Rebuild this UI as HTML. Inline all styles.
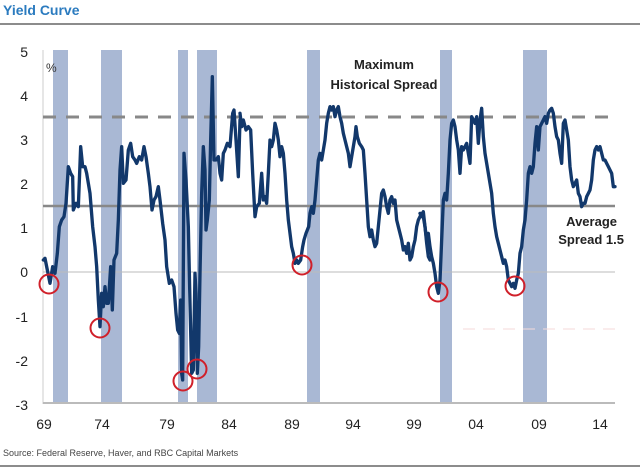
<!DOCTYPE html>
<html><head><meta charset="utf-8"><style>
html,body{margin:0;padding:0;background:#fff;}
svg{display:block;font-family:"Liberation Sans",sans-serif;}
</style></head><body>
<svg width="640" height="471" viewBox="0 0 640 471" xmlns="http://www.w3.org/2000/svg">
<text x="3" y="15" font-size="14" font-weight="bold" fill="#2b7bbf">Yield Curve</text>
<line x1="0" y1="24" x2="640" y2="24" stroke="#666" stroke-width="1.5"/>
<g fill="#a9b8d4">
<rect x="53" y="50" width="15" height="353"/>
<rect x="101" y="50" width="21" height="353"/>
<rect x="178" y="50" width="10" height="353"/>
<rect x="197" y="50" width="20" height="353"/>
<rect x="307" y="50" width="13" height="353"/>
<rect x="440" y="50" width="12" height="353"/>
<rect x="523" y="50" width="24" height="353"/>
</g>
<line x1="43" y1="50" x2="43" y2="404" stroke="#ccc" stroke-width="1"/>
<line x1="43" y1="403" x2="615" y2="403" stroke="#bbb" stroke-width="2"/>
<line x1="43" y1="272" x2="615" y2="272" stroke="#bbb" stroke-width="1"/>
<line x1="43" y1="206" x2="615" y2="206" stroke="#888" stroke-width="2.5"/>
<line x1="43" y1="117" x2="615" y2="117" stroke="#888" stroke-width="3" stroke-dasharray="13,10"/>
<line x1="463" y1="329" x2="615" y2="329" stroke="#f4dada" stroke-width="1" stroke-dasharray="12,8"/>
<g font-size="14" fill="#222" text-anchor="end">
<text x="28" y="57">5</text><text x="28" y="101">4</text><text x="28" y="145">3</text>
<text x="28" y="189">2</text><text x="28" y="233">1</text><text x="28" y="277">0</text>
<text x="28" y="322">-1</text><text x="28" y="366">-2</text><text x="28" y="410">-3</text>
</g>
<text x="46" y="72" font-size="12" fill="#333">%</text>
<g font-size="14" fill="#222" text-anchor="middle">
<text x="44" y="429">69</text><text x="102" y="429">74</text><text x="167" y="429">79</text>
<text x="229" y="429">84</text><text x="292" y="429">89</text><text x="353" y="429">94</text>
<text x="414" y="429">99</text><text x="476" y="429">04</text><text x="539" y="429">09</text>
<text x="600" y="429">14</text>
</g>
<g font-size="13" font-weight="bold" fill="#222" text-anchor="middle">
<text x="384" y="69">Maximum</text><text x="384" y="89">Historical Spread</text>
</g>
<g font-size="13" font-weight="bold" fill="#222" text-anchor="end">
<text x="617" y="226">Average</text><text x="624" y="244">Spread 1.5</text>
</g>
<g fill="none" stroke="#12386b" stroke-width="10" stroke-linejoin="round" stroke-linecap="round">
<polyline transform="translate(40,40) scale(0.33333)" points="10,660 15,655 22,690 30,730 38,680 45,700 52,640 58,560 65,540 72,530 78,490 85,380 92,400 98,410 100,510 108,490 115,500 122,320 128,380 135,380 140,400 150,460 158,560 165,620 170,680 175,780 180,860 185,760 190,800 195,740 200,790 205,790 212,680 217,810 222,660 230,640 235,540 240,390 245,320 250,430 258,420 265,330 272,310 278,350 285,360 290,370 298,350 305,360 312,320 318,350 325,400 330,440 336,510 342,480 348,470 355,440 360,480 368,550 375,600 380,680 388,730 395,720 402,740 408,820 413,870 418,880 422,780 425,1000 428,1020 432,340 438,420 445,560 450,790 455,1000 460,990 465,700 468,760 472,1000 476,920 480,700 485,460 490,320 495,390 498,570 502,540 508,480 512,300 517,110 522,360 528,360 535,350 540,400 545,420 550,340 555,330 562,310 570,320 578,220 582,210 588,300 595,410 600,240"/>
<polyline transform="translate(230,40) scale(0.33333)" points="30,220 35,260 40,240 48,270 55,260 62,270 68,400 75,530 80,500 88,490 95,400 100,480 105,470 110,490 115,400 120,300 125,320 130,300 135,250 140,270 145,300 150,350 155,320 160,340 165,400 170,480 175,540 180,580 185,620 190,640 195,670 200,660 205,670 212,660 218,620 222,600 228,580 232,570 236,560 240,520 245,500 250,520 255,480 260,420 265,360 270,340 275,360 280,330 285,300 290,250 295,220 300,200 305,210 310,200 315,230 320,210 325,200 330,230 335,250 340,280 345,300 350,320 355,340 360,380 365,350 370,320 375,290 378,260 382,290 388,310 395,320 400,330 405,400 410,480 415,560 420,590 425,570 430,600 435,620 440,610 445,560 450,510 455,460 460,450 465,470 470,500 475,520 480,480 485,470 490,490 495,480 500,540 505,560 510,580 515,600 520,630 525,620 530,640 535,610 540,660 545,650 550,620 555,600 560,560 565,540 570,530 575,520 580,530 585,560 590,610 595,650 600,660"/>
<polyline transform="translate(420,40) scale(0.33333)" points="0,520 5,530 10,515 15,560 20,600 25,580 30,620 35,650 40,670 45,700 50,740 55,760 60,720 65,600 70,480 75,460 80,480 85,400 90,300 95,250 100,240 105,260 110,300 115,330 120,400 125,320 130,330 135,320 140,310 145,340 150,370 155,230 160,240 165,250 170,230 175,310 180,240 185,205 190,290 195,340 200,370 205,400 210,430 215,460 220,520 225,560 230,590 235,610 240,630 245,650 250,670 255,660 260,680 265,720 270,730 275,740 280,730 285,745 290,720 295,700 300,640 305,620 310,570 315,540 320,480 325,400 330,380 335,400 340,380 345,310 350,260 355,330 360,260 365,250 370,240 375,230 380,250 385,220 390,210 395,205 400,220 405,260 410,290 415,300 420,340 425,370 430,250 435,240 440,270 445,300 450,380 455,420 460,440 465,430 470,420 475,460 480,470 485,500 490,490 495,490 500,470 505,460 510,450 515,420 520,360 525,330 530,320 535,330 540,320 545,340 550,360 555,360 560,370 565,380 570,390 575,400 580,440 585,440"/>
</g>
<g fill="none" stroke="#d0202a" stroke-width="2">
<circle cx="49" cy="284" r="9.5"/><circle cx="100" cy="328" r="9.5"/>
<circle cx="183" cy="381" r="9.5"/><circle cx="197" cy="369" r="9.5"/>
<circle cx="302" cy="265" r="9.5"/><circle cx="438" cy="292" r="9.5"/>
<circle cx="515" cy="286" r="9.5"/>
</g>
<text x="3" y="456" font-size="9" fill="#444">Source: Federal Reserve, Haver, and RBC Capital Markets</text>
<line x1="0" y1="466" x2="640" y2="466" stroke="#666" stroke-width="1.5"/>
</svg>
</body></html>
